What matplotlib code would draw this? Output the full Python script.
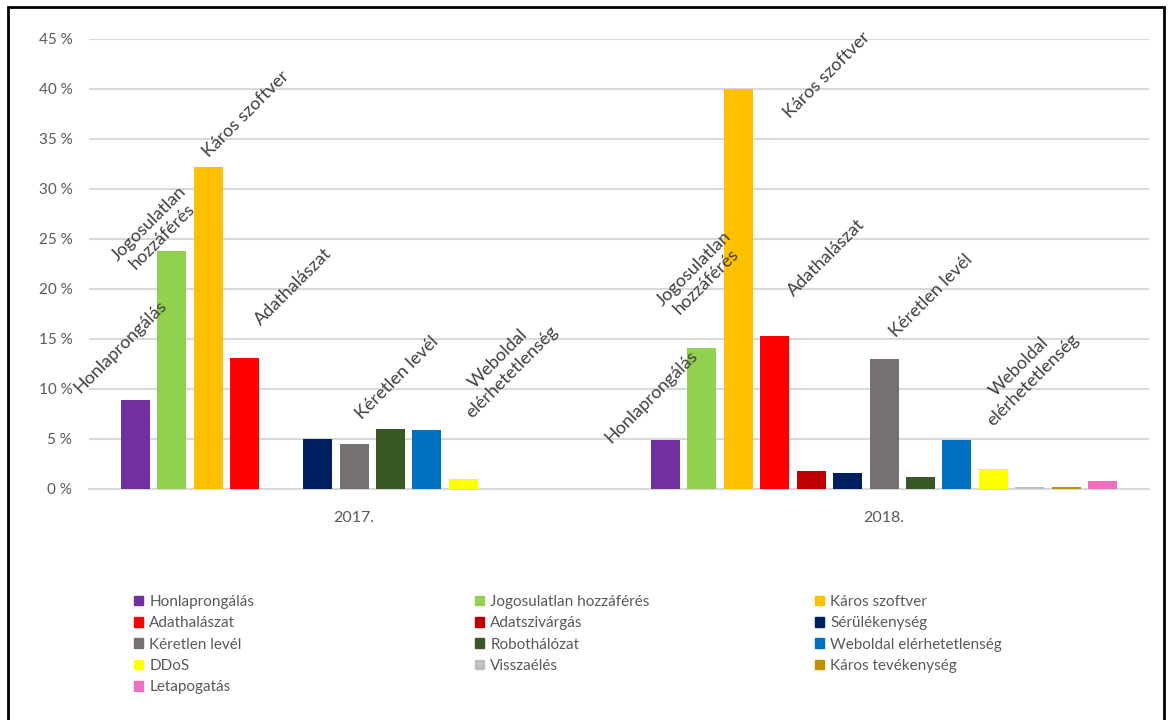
import matplotlib
matplotlib.use("Agg")
import matplotlib.pyplot as plt
from matplotlib.patches import Patch, Rectangle
import numpy as np

plt.rcParams['font.family'] = ['Lato', 'DejaVu Sans']

years = ['2017.', '2018.']
categories = ['Honlaprongálás', 'Jogosulatlan hozzáférés', 'Káros szoftver',
              'Adathalászat', 'Adatszivárgás', 'Sérülékenység', 'Kéretlen levél',
              'Robothálózat', 'Weboldal elérhetetlenség', 'DDoS', 'Visszaélés',
              'Káros tevékenység', 'Letapogatás']
colors = ['#7030A0', '#92D050', '#FFC000', '#FF0000', '#C00000', '#002060',
          '#767171', '#385723', '#0070C0', '#FFFF00', '#BFBFBF', '#BF9000',
          '#EE6FC0']
v2017 = [8.9, 23.8, 32.2, 13.1, 0, 5.0, 4.5, 6.0, 5.9, 1.0, 0, 0, 0]
v2018 = [4.9, 14.1, 40.0, 15.3, 1.8, 1.6, 13.0, 1.2, 4.9, 2.0, 0.2, 0.2, 0.8]

# rotated labels: (text, x in category units, y in %)
bar_labels = [
    ('Honlaprongálás', -0.44, 14.2),
    ('Jogosulatlan\nhozzáférés', -0.375, 25.9),
    ('Káros szoftver', -0.204, 37.5),
    ('Adathalászat', -0.115, 20.2),
    ('Kéretlen levél', 0.081, 11.1),
    ('Weboldal\nelérhetetlenség', 0.285, 12.4),
    ('Honlaprongálás', 0.562, 9.2),
    ('Jogosulatlan\nhozzáférés', 0.653, 21.4),
    ('Káros szoftver', 0.892, 41.4),
    ('Adathalászat', 0.891, 23.1),
    ('Kéretlen levél', 1.089, 19.3),
    ('Weboldal\nelérhetetlenség', 1.268, 11.6),
]

fig = plt.figure(figsize=(11.69, 7.2), dpi=100)
ax = fig.add_axes([89/1169, 1-489/720, 1060/1169, 450/720])

n = len(categories)
slot = 36.45 / 530
width = 29 / 530
x = np.arange(len(years))
handles = []
for i, (cat, col) in enumerate(zip(categories, colors)):
    off = (i - (n - 1) / 2) * slot
    ax.bar(x + off, [v2017[i], v2018[i]], width=width, color=col, zorder=3)
    handles.append(Patch(color=col, label=cat))

ax.set_xlim(-0.5, 1.5)
ax.set_ylim(0, 45)
ax.set_yticks(range(0, 46, 5))
ax.set_yticklabels([f'{t} %' for t in range(0, 46, 5)])
ax.set_xticks(x)
ax.set_xticklabels(years)
ax.grid(axis='y', color='#d9d9d9', linewidth=1.5, zorder=0)
for s in ['top', 'right', 'left']:
    ax.spines[s].set_visible(False)
ax.spines['bottom'].set_color('#d9d9d9')
ax.spines['bottom'].set_linewidth(1.5)
ax.tick_params(axis='both', length=0, colors='#595959', labelsize=11)
ax.tick_params(axis='x', pad=16, labelsize=11.5)
ax.tick_params(axis='y', pad=12)

for txt, tx, ty in bar_labels:
    ax.text(tx, ty, txt, rotation=45, ha='center', va='center',
            rotation_mode='anchor', multialignment='center',
            fontsize=13, color='#404040')

# legend in three columns, filled row by row
col_x = [134/1169, 475/1169, 815/1169]
for c in range(3):
    hs = handles[c::3]
    fig.legend(handles=hs, loc='upper left',
               bbox_to_anchor=(col_x[c], 1-595/720),
               frameon=False, fontsize=11, handlelength=0.6,
               handleheight=0.6, handletextpad=0.4, labelspacing=0.48,
               borderaxespad=0, borderpad=0, labelcolor='#595959')

fig.patches.append(Rectangle((8/1169, -0.02), 1156/1169, 1.02-7/720,
                             transform=fig.transFigure, fill=False,
                             edgecolor='black', linewidth=2))

fig.savefig('out.png', dpi=100)
